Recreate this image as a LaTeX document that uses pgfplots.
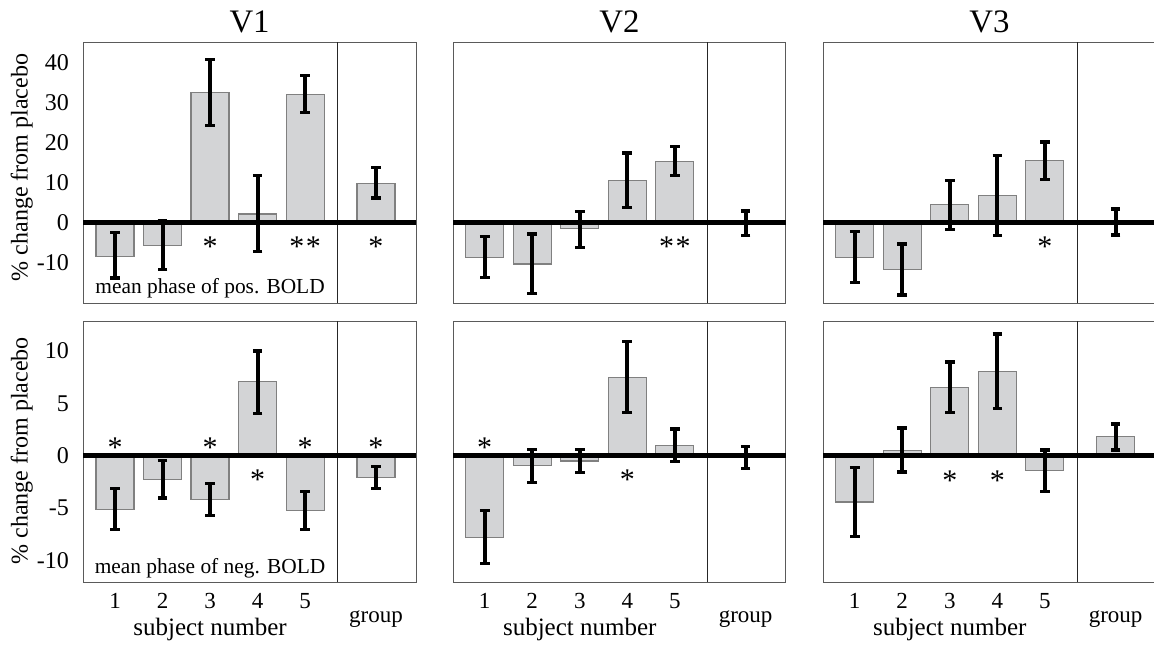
\documentclass[border=0pt]{standalone}
\usepackage{fontspec}
\setmainfont{Liberation Serif}
\usepackage{pgfplots}
\usepackage{pgfplotstable}
\pgfplotsset{compat=1.18}
\definecolor{barfill}{HTML}{D3D4D6}
\definecolor{baredge}{HTML}{808080}
\definecolor{boxcol}{HTML}{5A5A5A}

\pgfplotstableread{
x y ep em
1 -8.5 6.0 5.4
2 -5.75 6.25 6.05
3 32.5 8.3 8.25
4 2.1 9.65 9.35
5 32.0 4.75 4.5
6.49 9.75 4.0 3.65
}\aT
\pgfplotstableread{
x y ep em
1 -8.7 5.2 5.0
2 -10.4 7.5 7.4
3 -1.6 4.35 4.6
4 10.4 7.0 6.65
5 15.25 3.75 3.55
6.49 -0.2 3.1 3.1
}\bT
\pgfplotstableread{
x y ep em
1 -8.75 6.5 6.25
2 -11.7 6.3 6.4
3 4.4 6.1 6.1
4 6.7 10.0 10.0
5 15.4 4.7 4.7
6.49 0.15 3.25 3.25
}\cT
\pgfplotstableread{
x y ep em
1 -5.13 1.99 1.92
2 -2.28 1.80 1.76
3 -4.2 1.54 1.5
4 7.08 2.92 3.04
5 -5.22 1.82 1.83
6.49 -2.08 1.05 1.06
}\aB
\pgfplotstableread{
x y ep em
1 -7.8 2.6 2.5
2 -0.96 1.56 1.57
3 -0.5 1.1 1.1
4 7.44 3.43 3.31
5 0.96 1.57 1.54
6.49 -0.17 1.04 1.05
}\bB
\pgfplotstableread{
x y ep em
1 -4.42 3.27 3.28
2 0.5 2.13 2.04
3 6.5 2.44 2.37
4 8.04 3.56 3.54
5 -1.44 1.98 1.96
6.49 1.8 1.24 1.26
}\cB

\pgfplotsset{
  panel/.style={
    scale only axis, width=166.35pt, height=130.5pt, anchor=south west,
    xmin=0.333, xmax=7.333, clip=false,
    axis line style={draw=boxcol, line width=0.5pt},
    major tick length=0pt,
    yticklabel style={font=\fontsize{12}{12}\selectfont, inner sep=0pt, xshift=-7pt},
    xticklabel style={font=\fontsize{11.5}{11.5}\selectfont, anchor=base, yshift=-13pt},
  },
  toprow/.style={ymin=-20.15, ymax=45.1, xtick=\empty},
  botrow/.style={ymin=-12.05, ymax=12.85, xtick={1,2,3,4,5}, xticklabels={1,2,3,4,5}},
}

\newcommand{\panelbody}[1]{%
  \addplot[ybar, bar width=0.8, bar shift=0pt, fill=barfill, draw=baredge, line width=0.6pt] table[x=x,y=y]{#1};
  \draw[line width=0.6pt, black!85] ({axis cs:5.68,0} |- {rel axis cs:0,0}) -- ({axis cs:5.68,0} |- {rel axis cs:0,1});
  \draw[line width=2.2pt, black] (axis cs:0.333,0) -- (axis cs:7.333,0);
  \addplot[draw=none, mark=none, forget plot,
    error bars/.cd, y dir=both, y explicit,
    error mark=|,
    error bar style={draw=black, line width=2pt},
    error mark options={draw=black, line width=1.7pt, mark size=2.4pt}]
    table[x=x, y=y, y error plus=ep, y error minus=em]{#1};
}
\newcommand{\st}[3][*]{\node[font=\fontsize{15}{15}\selectfont, anchor=base, yshift=-7.2pt, inner sep=0pt] at (axis cs:#2,#3) {#1};}
\newcommand{\dst}[2]{\st[*\hspace{0.8pt}*]{#1}{#2}}
\newcommand{\bottomlabels}{%
  \node[font=\fontsize{11.5}{11.5}\selectfont, anchor=base, yshift=-20pt] at (axis cs:6.49,-12.05) {group};
  \node[font=\fontsize{12.5}{12.5}\selectfont, anchor=base, yshift=-26.5pt] at (axis cs:3,-12.05) {subject number};
}

\begin{document}
\begin{tikzpicture}
\useasboundingbox (0,0) rectangle (577pt,324.5pt);

% ---- top row ----
\begin{axis}[panel, toprow, at={(41.65pt,173pt)},
  ytick={-10,0,10,20,30,40}, yticklabels={-10,0,10,20,30,40}]
  \panelbody{\aT}
  \st{3}{-4.8}
  \dst{5}{-4.8}
  \st{6.49}{-4.8}
  \node[font=\fontsize{10.7}{10.7}\selectfont, anchor=base] at (axis cs:3,-17.65) {mean phase of pos. BOLD};
\end{axis}
\begin{axis}[panel, toprow, at={(226.5pt,173pt)}, ytick=\empty]
  \panelbody{\bT}
  \dst{5}{-4.8}
\end{axis}
\begin{axis}[panel, toprow, at={(411.5pt,173pt)}, ytick=\empty]
  \panelbody{\cT}
  \st{5}{-4.8}
\end{axis}

% ---- bottom row ----
\begin{axis}[panel, botrow, at={(41.65pt,33.5pt)},
  ytick={-10,-5,0,5,10}, yticklabels={-10,-5,0,5,10}]
  \panelbody{\aB}
  \st{1}{1.17}
  \st{3}{1.17}
  \st{5}{1.17}
  \st{6.49}{1.17}
  \st{4}{-1.84}
  \node[font=\fontsize{10.7}{10.7}\selectfont, anchor=base] at (axis cs:3,-11.2) {mean phase of neg. BOLD};
  \bottomlabels
\end{axis}
\begin{axis}[panel, botrow, at={(226.5pt,33.5pt)}, ytick=\empty]
  \panelbody{\bB}
  \st{1}{1.17}
  \st{4}{-1.84}
  \bottomlabels
\end{axis}
\begin{axis}[panel, botrow, at={(411.5pt,33.5pt)}, ytick=\empty]
  \panelbody{\cB}
  \st{3}{-1.9}
  \st{4}{-1.9}
  \bottomlabels
\end{axis}

% ---- titles and y labels ----
\node[font=\fontsize{16.4}{16.4}\selectfont, anchor=base] at (124.8pt,308pt) {V1};
\node[font=\fontsize{16.4}{16.4}\selectfont, anchor=base] at (309.7pt,308pt) {V2};
\node[font=\fontsize{16.4}{16.4}\selectfont, anchor=base] at (494.7pt,308pt) {V3};
\node[font=\fontsize{12}{12}\selectfont, rotate=90] at (10.85pt,240.75pt) {\% change from placebo};
\node[font=\fontsize{12}{12}\selectfont, rotate=90] at (10.85pt,99.1pt) {\% change from placebo};
\end{tikzpicture}
\end{document}
